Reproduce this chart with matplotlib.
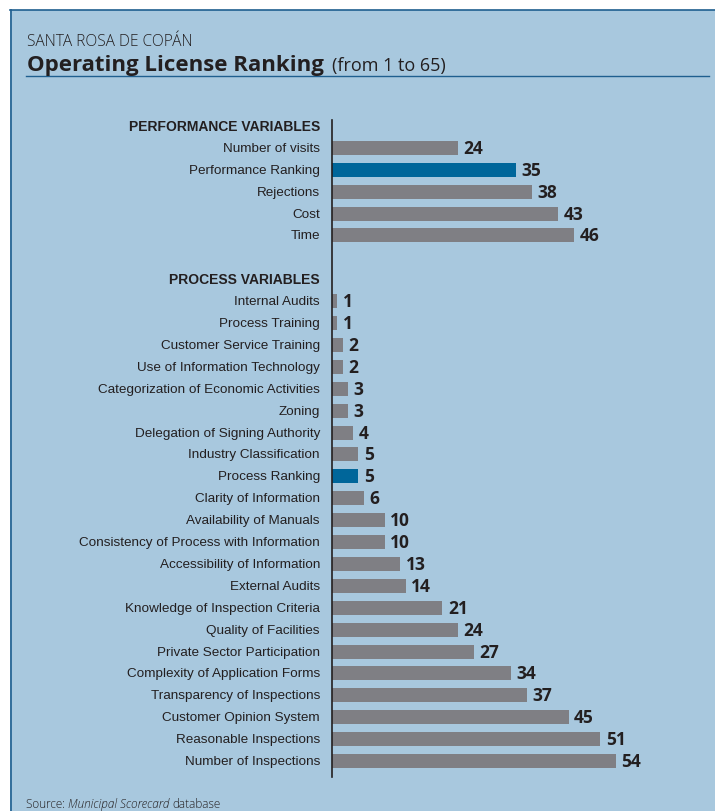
import matplotlib
matplotlib.use("Agg")
import matplotlib.pyplot as plt
from matplotlib.patches import Rectangle
from matplotlib.lines import Line2D

perf_labels = ["Number of visits", "Performance Ranking", "Rejections", "Cost", "Time"]
perf_values = [24, 35, 38, 43, 46]
proc_labels = ["Internal Audits", "Process Training", "Customer Service Training",
               "Use of Information Technology", "Categorization of Economic Activities",
               "Zoning", "Delegation of Signing Authority", "Industry Classification",
               "Process Ranking", "Clarity of Information", "Availability of Manuals",
               "Consistency of Process with Information", "Accessibility of Information",
               "External Audits", "Knowledge of Inspection Criteria", "Quality of Facilities",
               "Private Sector Participation", "Complexity of Application Forms",
               "Transparency of Inspections", "Customer Opinion System",
               "Reasonable Inspections", "Number of Inspections"]
proc_values = [1, 1, 2, 2, 3, 3, 4, 5, 5, 6, 10, 10, 13, 14, 21, 24, 27, 34, 37, 45, 51, 54]
highlight = ["Performance Ranking", "Process Ranking"]
headers = ["PERFORMANCE VARIABLES", "PROCESS VARIABLES"]

BG = "#a8c8de"
GREY = "#7f7f84"
BLUE = "#00669a"
DARK = "#231f20"
BORDER = "#1f5f8f"
FAM = ["Liberation Sans Narrow", "Liberation Sans", "DejaVu Sans"]
OS = ["Open Sans", "DejaVu Sans"]

W, H = 715, 812
fig = plt.figure(figsize=(W/100, H/100), dpi=100)
fig.patch.set_facecolor("white")

def fx(px): return px / W
def fy(py): return 1 - py / H

# panel
fig.patches.append(Rectangle((fx(10), 0), 1 - fx(10), fy(11), transform=fig.transFigure,
                             facecolor=BG, edgecolor="none", zorder=-5))
fig.lines.append(Line2D([fx(10), 1], [fy(11), fy(11)], transform=fig.transFigure, color=BORDER, lw=1.2, zorder=-4))
fig.lines.append(Line2D([fx(10.5), fx(10.5)], [0, fy(11)], transform=fig.transFigure, color=BORDER, lw=1.2, zorder=-4))
fig.lines.append(Line2D([fx(26), fx(709)], [fy(77), fy(77)], transform=fig.transFigure, color=BORDER, lw=1.0, zorder=-4))

# title
fig.text(fx(27), fy(45.5), "SANTA ROSA DE COPÁN", fontsize=11.2, color=DARK,
         family=OS, fontweight="light", va="baseline")
t1 = fig.text(fx(27), fy(70.5), "Operating License Ranking", fontsize=16, fontweight="bold",
              color=DARK, family=OS, va="baseline")
fig.canvas.draw()
r = fig.canvas.get_renderer()
bb = t1.get_window_extent(r)
fig.text((bb.x1 + 8) / W, fy(70.5), "(from 1 to 65)", fontsize=13, color=DARK,
         family=OS, va="baseline")

# axes
top_px, bot_px = 121, 778
first_px, last_px = 127, 762
n_rows = 1 + len(perf_labels) + 2 + len(proc_labels)
last_idx = n_rows - 1
unit = (last_px - first_px) / last_idx
px_per_val = 5.26
ax = fig.add_axes([fx(332), fy(bot_px), 65 * px_per_val / W, (bot_px - top_px) / H])
ax.set_facecolor("none")
ax.set_ylim(last_idx + (bot_px - last_px) / unit, -(first_px - top_px) / unit)
ax.set_xlim(0, 65)

lab_off = -12 / px_per_val
val_off = 5.5 / px_per_val

labels = [headers[0]] + perf_labels + [""] + [headers[1]] + proc_labels
values = [None] + perf_values + [None, None] + proc_values
for i, (lab, v) in enumerate(zip(labels, values)):
    if lab in headers:
        ax.text(lab_off, i, lab, ha="right", va="center", fontsize=10, fontweight="bold",
                color=DARK, family=FAM)
        continue
    if v is None:
        continue
    c = BLUE if lab in highlight else GREY
    ax.barh(i, v, height=0.64, color=c, edgecolor="none")
    ax.text(lab_off, i, lab, ha="right", va="center", fontsize=9.7, color=DARK, family=FAM)
    ax.text(v + val_off, i, str(v), ha="left", va="center", fontsize=12.5, fontweight="bold",
            color=DARK, family=OS)

for s in ["top", "right", "bottom"]:
    ax.spines[s].set_visible(False)
ax.spines["left"].set_color(DARK)
ax.spines["left"].set_linewidth(1.2)
ax.set_xticks([])
ax.set_yticks([])

# source
s1 = fig.text(fx(26), fy(808), "Source: ", fontsize=8.5, color=DARK, family=OS,
              fontweight="light", va="baseline")
fig.canvas.draw()
b1 = s1.get_window_extent(r)
s2 = fig.text(b1.x1 / W, fy(808), "Municipal Scorecard", fontsize=8.5, color=DARK, style="italic",
              family=OS, fontweight="light", va="baseline")
fig.canvas.draw()
b2 = s2.get_window_extent(r)
fig.text((b2.x1 + 3) / W, fy(808), "database", fontsize=8.5, color=DARK,
         family=OS, fontweight="light", va="baseline")

fig.savefig("out.png", dpi=100, facecolor="white")
